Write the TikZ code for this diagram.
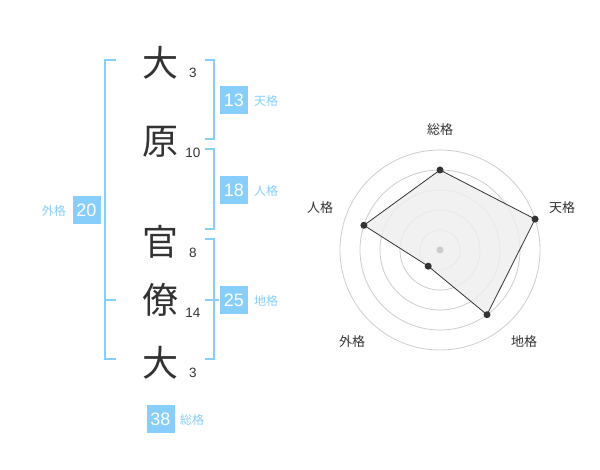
\documentclass[tikz,border=0pt]{standalone}
\usepackage{fontspec}
\setmainfont{Liberation Sans}
\newfontfamily\cjk{Noto Sans CJK JP}
\definecolor{sky}{RGB}{135,206,250}
\definecolor{ink}{RGB}{51,51,51}
\definecolor{ring}{RGB}{204,204,204}
\definecolor{area}{RGB}{238,238,238}
\begin{document}
\begin{tikzpicture}[x=1pt,y=-1pt,
  kanji/.style={font=\cjk\fontsize{36}{36}\selectfont,text=ink,inner sep=0pt},
  stroke/.style={font=\fontsize{13.5}{14}\selectfont,text=ink,inner sep=0pt},
  valbox/.style={fill=sky,text=white,minimum width=28pt,minimum height=28pt,inner sep=0pt,font=\fontsize{18}{18}\selectfont},
  kaku/.style={font=\cjk\fontsize{12}{12}\selectfont,text=sky,inner sep=0pt},
  bracket/.style={draw=sky,line width=2pt},
  axislabel/.style={font=\cjk\fontsize{13}{13}\selectfont,text=ink,inner sep=0pt},
  ringline/.style={draw=ring,line width=0.8pt},
  dot/.style={circle,fill=ink,inner sep=0pt,minimum size=7pt}]
\useasboundingbox (0,0) rectangle (600,470);
% characters
\node[kanji] (k1) at (160,63) {大};
\node[kanji] (k2) at (160,142) {原};
\node[kanji] (k3) at (160,242) {官};
\node[kanji] (k4) at (160,300) {僚};
\node[kanji] (k5) at (160,363) {大};
\node[stroke] (s1) at (193,73) {3};
\node[stroke] (s2) at (193,153) {10};
\node[stroke] (s3) at (193,253) {8};
\node[stroke] (s4) at (193,313) {14};
\node[stroke] (s5) at (193,373) {3};
% brackets
\draw[bracket] (116,60) -- (105,60) -- (105,359) -- (116,359);
\draw[bracket] (105,300) -- (116,300);
\draw[bracket] (205,60) -- (214,60) -- (214,139) -- (205,139);
\draw[bracket] (205,149) -- (214,149) -- (214,229) -- (205,229);
\draw[bracket] (205,239) -- (214,239) -- (214,359) -- (205,359);
\draw[bracket] (205,300) -- (219,300);
% value boxes
\node[valbox] (b1) at (234,100) {13};
\node[kaku,anchor=west] (l1) at (254,101) {天格};
\node[valbox] (b2) at (234,190) {18};
\node[kaku,anchor=west] (l2) at (254,191) {人格};
\node[valbox] (b3) at (234,300) {25};
\node[kaku,anchor=west] (l3) at (254,301) {地格};
\node[valbox] (b4) at (86.5,210) {20};
\node[kaku,anchor=east] (l4) at (66,211) {外格};
\node[valbox] (b5) at (160.5,419) {38};
\node[kaku,anchor=west] (l5) at (180,420) {総格};
% radar chart
\coordinate (c) at (440,250);
\foreach \r in {20,40,60,80,100} \draw[ringline] (c) circle[radius=\r pt];
\coordinate (v1) at (440,170);
\coordinate (v2) at (535.1,219.1);
\coordinate (v3) at (487.0,314.7);
\coordinate (v4) at (428.2,266.2);
\coordinate (v5) at (363.9,225.3);
\fill[area,opacity=0.85] (v1) -- (v2) -- (v3) -- (v4) -- (v5) -- cycle;
\draw[ink,line width=0.8pt] (v1) -- (v2) -- (v3) -- (v4) -- (v5) -- cycle;
\node[circle,fill=ring,inner sep=0pt,minimum size=7pt] (cd) at (c) {};
\foreach \v in {v1,v2,v3,v4,v5} \node[dot] at (\v) {};
\node[axislabel] (a1) at (440,130) {総格};
\node[axislabel] (a2) at (562,208) {天格};
\node[axislabel] (a3) at (524,342) {地格};
\node[axislabel] (a4) at (352,342) {外格};
\node[axislabel] (a5) at (320,208) {人格};
\end{tikzpicture}
\end{document}
